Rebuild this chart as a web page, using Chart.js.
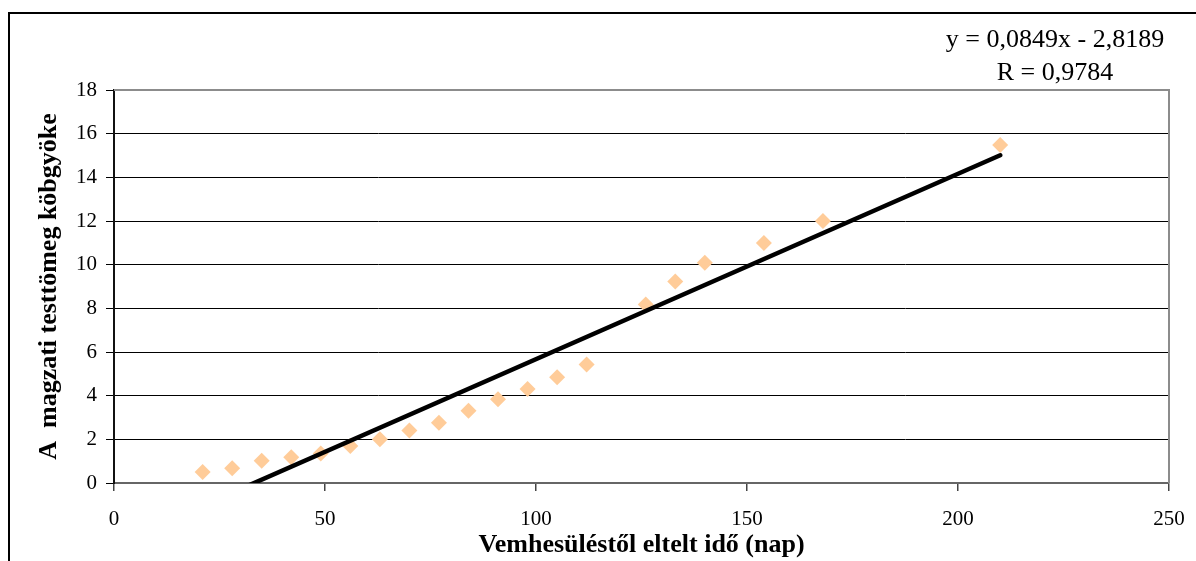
<!DOCTYPE html>
<html>
<head>
<meta charset="utf-8">
<script src="https://cdn.jsdelivr.net/npm/chart.js@4/dist/chart.umd.min.js"></script>
<style>
    html, body { margin: 0; padding: 0; background: #fff; overflow: hidden; }
    #wrap { position: relative; width: 1196px; height: 561px; }
    #frame {
        position: absolute; left: 8px; top: 12px; right: -10px; bottom: -10px;
        border-left: 2px solid #000; border-top: 2px solid #000;
    }
    canvas { position: absolute; left: 0; top: 0; }
</style>
</head>
<body>
<div id="wrap">
    <div id="frame"></div>
    <canvas id="myChart" width="1196" height="561"></canvas>
</div>
<script>
// days since conception
const days = [21, 28, 35, 42, 49, 56, 63, 70, 77, 84, 91, 98, 105, 112, 126, 133, 140, 154, 168, 210];
// cube root of foetal body mass
const cubeRoot = [0.5, 0.67, 1.02, 1.18, 1.35, 1.7, 2.0, 2.4, 2.76, 3.31, 3.84, 4.31, 4.84, 5.43, 8.18, 9.23, 10.09, 10.99, 12.0, 15.48];

// linear fit
const slope = 0.0849;
const intercept = -2.8189;
const equationLines = ["y = 0,0849x - 2,8189", "R = 0,9784"];

const xTitle = "Vemhesüléstől eltelt idő (nap)";
const yTitle = "A  magzati testtömeg köbgyöke";

const serif = "'Liberation Serif', 'Times New Roman', serif";

const trend = [days[0], days[days.length - 1]].map(d => ({ x: d, y: slope * d + intercept }));
const points = days.map((d, i) => ({ x: d, y: cubeRoot[i] }));

// gray plot frame on top/right plus the equation text
const extras = {
    id: 'extras',
    beforeDatasetsDraw(chart) {
        const { ctx, chartArea: a } = chart;
        ctx.save();
        ctx.strokeStyle = '#8c8c8c';
        ctx.lineWidth = 2;
        ctx.beginPath();
        ctx.moveTo(a.left, a.top);
        ctx.lineTo(a.right, a.top);
        ctx.lineTo(a.right, a.bottom);
        ctx.stroke();
        ctx.restore();
    },
    afterDraw(chart) {
        const ctx = chart.ctx;
        ctx.save();
        ctx.fillStyle = '#000';
        ctx.font = "26px " + serif;
        ctx.textAlign = 'center';
        ctx.textBaseline = 'alphabetic';
        ctx.fillText(equationLines[0], 1055, 47);
        ctx.fillText(equationLines[1], 1055, 80);
        ctx.restore();
    }
};

const ctx = document.getElementById('myChart');
const chart = new Chart(ctx, {
    type: 'scatter',
    data: {
        datasets: [
            {
                type: 'line',
                label: 'trend',
                data: trend,
                borderColor: '#000',
                borderWidth: 4.5,
                borderCapStyle: 'round',
                pointRadius: 0,
                fill: false,
                clip: 0,
                order: 0
            },
            {
                label: 'köbgyök',
                data: points,
                pointStyle: 'rectRot',
                pointRadius: 8,
                pointHoverRadius: 8,
                backgroundColor: '#FFCC99',
                borderWidth: 0,
                order: 1
            }
        ]
    },
    options: {
        responsive: false,
        animation: false,
        events: [],
        layout: {
            padding: { left: 0, top: 90, right: 27, bottom: 0 }
        },
        plugins: {
            legend: { display: false },
            tooltip: { enabled: false }
        },
        scales: {
            x: {
                type: 'linear',
                min: 0,
                max: 250,
                afterFit: (scale) => {
                    scale.height = 78;
                    scale.paddingLeft = 0;
                    scale.paddingRight = 0;
                },
                ticks: {
                    stepSize: 50,
                    color: '#000',
                    padding: 16,
                    maxRotation: 0,
                    font: { family: serif, size: 21 }
                },
                grid: {
                    drawOnChartArea: false,
                    drawTicks: true,
                    tickLength: 8,
                    tickColor: '#444',
                    lineWidth: 1.5
                },
                border: { color: '#666', width: 2 },
                title: {
                    display: true,
                    text: xTitle,
                    color: '#000',
                    padding: { top: 0, bottom: 0 },
                    font: { family: serif, size: 26, weight: 'bold', lineHeight: 1.2 }
                }
            },
            y: {
                type: 'linear',
                min: 0,
                max: 18,
                afterFit: (scale) => { scale.width = 114; },
                ticks: {
                    stepSize: 2,
                    color: '#000',
                    padding: 9,
                    font: { family: serif, size: 21 }
                },
                grid: {
                    color: (c) => (c.tick && (c.tick.value === 18 || c.tick.value === 0)) ? 'rgba(0,0,0,0)' : '#000',
                    lineWidth: 1,
                    tickLength: 8,
                    tickColor: '#000'
                },
                border: { color: '#111', width: 2 },
                title: {
                    display: true,
                    text: yTitle,
                    color: '#000',
                    padding: { top: 34, bottom: 0 },
                    font: { family: serif, size: 26, weight: 'bold', lineHeight: 1.2 }
                }
            }
        }
    },
    plugins: [extras]
});
</script>
</body>
</html>
